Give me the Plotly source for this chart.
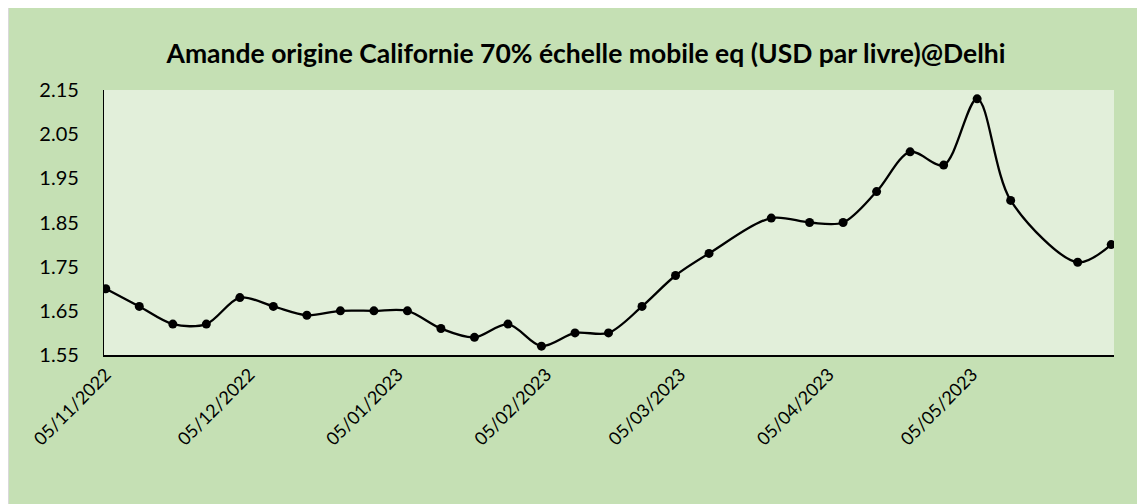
import plotly.graph_objects as go

# ---- data ----
dates = [
    "2022-11-05", "2022-11-12", "2022-11-19", "2022-11-26", "2022-12-03",
    "2022-12-10", "2022-12-17", "2022-12-24", "2022-12-31", "2023-01-07",
    "2023-01-14", "2023-01-21", "2023-01-28", "2023-02-04", "2023-02-11",
    "2023-02-18", "2023-02-25", "2023-03-04", "2023-03-11", "2023-03-24",
    "2023-04-01", "2023-04-08", "2023-04-15", "2023-04-22", "2023-04-29",
    "2023-05-06", "2023-05-13", "2023-05-27", "2023-06-03",
]
prices = [
    1.70, 1.66, 1.62, 1.62, 1.68, 1.66, 1.64, 1.65, 1.65, 1.65,
    1.61, 1.59, 1.62, 1.57, 1.60, 1.60, 1.66, 1.73, 1.78, 1.86,
    1.85, 1.85, 1.92, 2.01, 1.98, 2.13, 1.90, 1.76, 1.80,
]
x_tick_vals = ["2022-11-05", "2022-12-05", "2023-01-05", "2023-02-05",
               "2023-03-05", "2023-04-05", "2023-05-05"]
x_tick_text = ["05/11/2022", "05/12/2022", "05/01/2023", "05/02/2023",
               "05/03/2023", "05/04/2023", "05/05/2023"]
y_tick_vals = [1.55, 1.65, 1.75, 1.85, 1.95, 2.05, 2.15]
y_tick_text = ["1.55", "1.65", "1.75", "1.85", "1.95", "2.05", "2.15"]
title_text = "Amande origine Californie 70% échelle mobile eq (USD par livre)@Delhi"

# ---- layout geometry (page body has an 8px margin) ----
W, H = 1137, 496
ML, MR, MT, MB = 96, 31, 82, 149
PW, PH = W - ML - MR, H - MT - MB


def px(x):
    return (x - ML) / PW


def py(y):
    return 1 - (y - MT) / PH


OUTER = "#c5e0b4"
INNER = "#e2efda"
FONT = "Lato"

fig = go.Figure()
fig.add_trace(go.Scatter(
    x=dates, y=prices, mode="lines+markers",
    line=dict(color="#000000", width=2.3, shape="spline", smoothing=0.9),
    marker=dict(color="#000000", size=9),
    hoverinfo="x+y", showlegend=False,
))

shapes = [
    # thin grey left border of the chart box
    dict(type="line", xref="paper", yref="paper", layer="above",
         x0=px(0.5), x1=px(0.5), y0=py(0), y1=py(H + 2),
         line=dict(color="#d9d9d9", width=1)),
]

fig.update_layout(
    width=W, height=H,
    margin=dict(l=ML, r=MR, t=MT, b=MB, pad=0),
    paper_bgcolor=OUTER,
    plot_bgcolor=INNER,
    shapes=shapes,
    title=dict(text=f"<b>{title_text}</b>", x=px(578), xref="paper", xanchor="center",
               y=1 - 46 / H, yref="container", yanchor="middle",
               font=dict(family=FONT, size=26.5, color="#000000")),
    font=dict(family=FONT, size=20, color="#000000"),
    xaxis=dict(
        type="date",
        range=["2022-11-04 15:00", "2023-06-03 14:00"],
        tickvals=x_tick_vals, ticktext=x_tick_text, tickangle=-45,
        showgrid=False, zeroline=False,
        showline=True, linecolor="#000000", linewidth=2,
        ticks="", tickfont=dict(family=FONT, size=18, color="#000000"),
    ),
    yaxis=dict(
        range=[1.55, 2.15],
        tickvals=y_tick_vals, ticktext=y_tick_text,
        showgrid=False, zeroline=False,
        showline=True, linecolor="#000000", linewidth=1.3,
        ticks="", ticklabelstandoff=20,
        tickfont=dict(family=FONT, size=20, color="#000000"),
    ),
)

fig.write_html("out.html")
